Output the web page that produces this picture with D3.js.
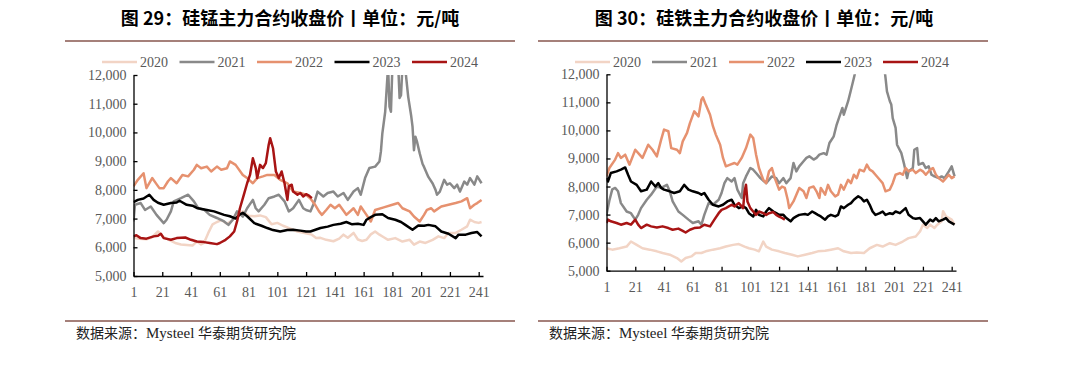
<!DOCTYPE html>
<html>
<head>
<meta charset="utf-8">
<script src="https://cdn.jsdelivr.net/npm/d3@7"></script>
<style>
  body { margin: 0; background: #fff; }
  svg { display: block; }
</style>
</head>
<body>
<div id="chart"></div>
<script>
// ---- data ----
const years = ["2020", "2021", "2022", "2023", "2024"];
const xTicks = [1, 21, 41, 61, 81, 101, 121, 141, 161, 181, 201, 221, 241];
const yTicks = [5000, 6000, 7000, 8000, 9000, 10000, 11000, 12000];

// 图29 硅锰 [trading day, price]
const simn2020 = [[1,6330],[5,6300],[10,6280],[14,6350],[18,6550],[22,6350],[26,6250],[30,6150],[34,6100],[38,6080],[42,6060],[45,6200],[48,6100],[50,6150],[53,6500],[56,6800],[59,6880],[62,6950],[66,6820],[70,6950],[73,7150],[77,7250],[81,7100],[85,7080],[89,7110],[93,7050],[97,6800],[101,6850],[105,6750],[110,6650],[115,6550],[120,6500],[125,6440],[128,6320],[131,6330],[135,6260],[140,6210],[144,6300],[147,6440],[150,6330],[154,6500],[157,6270],[160,6220],[163,6260],[166,6450],[169,6550],[172,6440],[175,6350],[178,6260],[183,6320],[188,6200],[193,6260],[196,6090],[200,6200],[204,6150],[209,6260],[213,6380],[217,6320],[220,6500],[225,6500],[229,6610],[233,6730],[235,6960],[238,6880],[241,6850],[243,6880]];
const simn2021 = [[1,6900],[2,7480],[6,7540],[9,7300],[13,7420],[17,7130],[22,6840],[24,6960],[27,7250],[29,7600],[34,7710],[39,7830],[43,7600],[46,7360],[50,7310],[54,7130],[59,7020],[64,6900],[67,6780],[70,6960],[73,7250],[77,7070],[80,7360],[84,7650],[86,7360],[88,7250],[92,7480],[95,7710],[99,7770],[102,7830],[106,7600],[109,7250],[112,7360],[116,7650],[119,7360],[121,7300],[124,7250],[127,7600],[129,7940],[133,7770],[136,7890],[140,7940],[143,7770],[147,7890],[150,7650],[154,7940],[157,8060],[159,7830],[162,8410],[165,8760],[169,8810],[172,8990],[173,9330],[174,9960],[176,10720],[178,12300],[179,10900],[180,10720],[181,12300],[183,12600],[185,12400],[186,11200],[187,11300],[188,12300],[190,12200],[192,11240],[194,10600],[195,10200],[196,9380],[197,9850],[198,9700],[200,9270],[202,8900],[203,8800],[206,8450],[209,8220],[211,8000],[212,7830],[214,7940],[217,8350],[219,8180],[221,8230],[224,8060],[226,8180],[228,7940],[231,8290],[233,8180],[235,8410],[238,8180],[240,8470],[243,8230]];
const simn2022 = [[1,8120],[4,8350],[8,8580],[10,8060],[14,8410],[17,8200],[19,8060],[22,8060],[25,8300],[27,8410],[31,8230],[35,8520],[39,8470],[43,8700],[45,8870],[48,8750],[52,8810],[55,8640],[59,8810],[62,8700],[66,8755],[68,8990],[72,8870],[77,8520],[80,8410],[84,8230],[87,8410],[91,8470],[94,8520],[99,8520],[103,8350],[108,8230],[112,7940],[117,7890],[121,7830],[124,7700],[127,7500],[130,7250],[132,7130],[135,7300],[138,7480],[141,7360],[144,7480],[149,7130],[154,7360],[157,7130],[159,7420],[163,7130],[166,6900],[169,7300],[175,7390],[181,7480],[185,7540],[188,7360],[193,7250],[196,7070],[200,6900],[203,7130],[205,7300],[208,7360],[210,7250],[215,7420],[220,7480],[225,7540],[229,7600],[233,7710],[235,7360],[238,7480],[240,7540],[243,7650]];
const simn2023 = [[1,7570],[4,7650],[8,7700],[12,7830],[15,7650],[18,7550],[22,7480],[27,7540],[31,7560],[33,7620],[38,7480],[42,7450],[45,7370],[52,7300],[57,7250],[64,7130],[68,7080],[72,7000],[75,7150],[77,7200],[80,7080],[85,6840],[90,6750],[94,6670],[98,6600],[103,6550],[108,6600],[112,6610],[117,6580],[121,6550],[124,6550],[131,6670],[136,6720],[140,6780],[145,6820],[149,6880],[153,6800],[157,6820],[161,6780],[163,6960],[166,7050],[169,7130],[174,7150],[178,7020],[183,6960],[187,6880],[190,6780],[195,6610],[199,6760],[203,6750],[206,6780],[211,6730],[215,6550],[220,6470],[225,6320],[227,6440],[232,6440],[236,6500],[240,6530],[243,6380]];
const simn2024 = [[1,6380],[3,6420],[6,6320],[10,6300],[15,6380],[18,6400],[20,6470],[22,6320],[27,6260],[31,6320],[37,6340],[41,6260],[45,6200],[50,6180],[54,6150],[59,6110],[61,6150],[65,6260],[68,6380],[71,6550],[73,6900],[75,7360],[78,7880],[80,8230],[82,8520],[84,9100],[86,8760],[87,8410],[89,8870],[91,8760],[93,8930],[95,9570],[96,9800],[98,9450],[100,8640],[102,8410],[104,8640],[106,8230],[108,7650],[109,8120],[111,8180],[112,7940],[115,7830],[117,7890],[119,7770],[121,7850],[123,7800],[125,7710]];

// 图30 硅铁 [trading day, price]
const fesi2020 = [[1,5800],[5,5750],[10,5800],[15,5860],[18,6040],[22,5920],[26,5800],[31,5750],[36,5690],[40,5630],[45,5570],[50,5450],[53,5330],[56,5450],[60,5510],[63,5630],[67,5630],[70,5690],[75,5750],[80,5800],[84,5860],[89,5920],[93,5950],[97,5860],[100,5800],[104,5750],[107,5690],[110,6040],[112,5860],[116,5750],[121,5690],[125,5630],[130,5570],[134,5510],[139,5570],[144,5630],[148,5690],[153,5710],[157,5750],[162,5800],[166,5690],[171,5630],[175,5650],[180,5630],[184,5800],[189,5920],[193,5860],[198,5980],[202,5920],[207,6040],[211,6160],[216,6220],[219,6400],[221,6640],[224,6520],[226,6640],[229,6520],[231,6640],[234,6760],[235,7120],[237,6940],[241,6820],[243,6640]];
const fesi2021 = [[1,6990],[3,7500],[5,7900],[7,7950],[9,7830],[11,7410],[15,7110],[18,7050],[21,6820],[23,6990],[25,7230],[29,7530],[32,7710],[36,8000],[39,7950],[43,8060],[45,7830],[47,7470],[51,7110],[54,6990],[58,6820],[61,6700],[65,6760],[67,6640],[69,6990],[72,7410],[75,7350],[79,7530],[81,7770],[83,8120],[85,8300],[88,8180],[90,8300],[92,7890],[95,7590],[96,8120],[98,8360],[101,8660],[103,8600],[105,8480],[108,8300],[112,8120],[116,8360],[119,8300],[121,8120],[122,8180],[124,8300],[126,8120],[129,8300],[131,8840],[133,8540],[135,8720],[138,8900],[140,9020],[142,9075],[145,8960],[147,9020],[149,9135],[152,9190],[154,9135],[156,9550],[159,9790],[161,10200],[163,10500],[165,10800],[166,10560],[169,11040],[171,11450],[173,11870],[175,12300],[180,13500],[185,14000],[190,13500],[194,12300],[195,11870],[196,11390],[198,11040],[199,10920],[200,10440],[202,10090],[203,9490],[206,9190],[208,8780],[210,8300],[211,8540],[214,8660],[215,9310],[217,9370],[218,8780],[221,8840],[223,8660],[225,8720],[227,8420],[229,8360],[232,8300],[234,8360],[236,8300],[239,8540],[241,8720],[243,8360]];
const fesi2022 = [[1,8360],[3,8660],[7,8960],[9,9190],[11,9020],[14,9135],[17,8780],[21,9310],[24,9135],[26,9020],[30,9490],[33,9310],[36,9075],[39,9670],[41,10030],[44,9970],[46,9370],[50,9310],[52,9190],[54,9610],[57,9910],[59,10260],[62,10680],[65,10500],[67,11100],[68,11180],[70,10920],[73,10560],[75,10150],[77,9850],[80,9490],[82,9020],[84,8720],[87,8780],[90,8840],[92,8780],[95,9020],[98,9370],[101,9850],[103,9730],[105,9135],[107,8660],[110,8240],[112,8120],[114,8540],[116,8660],[118,8300],[121,7890],[123,8000],[125,7950],[127,7530],[128,7230],[131,7470],[133,7710],[135,7950],[138,7830],[140,7590],[142,7950],[145,8000],[147,7830],[149,7590],[150,7950],[153,7710],[155,8060],[157,7830],[160,7650],[162,7710],[164,8060],[166,7890],[169,8240],[171,8120],[173,8420],[175,8300],[177,8600],[180,8540],[182,8780],[184,8600],[186,8540],[188,8420],[191,8240],[193,8120],[195,7830],[198,7890],[200,8120],[202,8420],[205,8480],[207,8420],[209,8660],[211,8540],[214,8600],[216,8480],[219,8600],[221,8540],[223,8420],[226,8600],[228,8660],[230,8420],[232,8300],[235,8180],[237,8300],[239,8420],[241,8300],[243,8360]];
const fesi2023 = [[1,8300],[2,8180],[4,8480],[8,8540],[11,8600],[14,8680],[16,8420],[18,8180],[22,8060],[25,7830],[29,7890],[32,8180],[35,8000],[37,8120],[39,7950],[41,7890],[45,7830],[48,7770],[52,7830],[55,8060],[58,7890],[61,7830],[65,7770],[67,7710],[69,7770],[72,7530],[75,7350],[79,7290],[82,7350],[85,7470],[88,7530],[90,7350],[93,7230],[96,7290],[98,7230],[100,7050],[103,6935],[105,7170],[107,6990],[110,6935],[112,7110],[114,7230],[117,7110],[119,7050],[121,6990],[124,6990],[126,6875],[129,6760],[131,6875],[133,6935],[135,6990],[139,7020],[141,6990],[144,7110],[146,7050],[148,6990],[150,6935],[153,6820],[155,6935],[157,6990],[160,6935],[162,6990],[164,7290],[166,7230],[169,7350],[171,7410],[173,7530],[176,7650],[178,7590],[180,7470],[182,7530],[184,7350],[186,7110],[188,6990],[191,7050],[193,7110],[195,6990],[198,7050],[200,7020],[202,7110],[205,7050],[207,7140],[209,7230],[211,6990],[214,6875],[216,6850],[219,6875],[221,6760],[223,6640],[226,6820],[228,6760],[230,6875],[232,6760],[235,6820],[237,6875],[239,6760],[243,6640]];
const fesi2024 = [[1,6700],[2,6820],[4,6760],[8,6700],[11,6640],[15,6700],[18,6640],[21,6820],[23,6640],[25,6520],[29,6640],[32,6580],[36,6540],[40,6580],[44,6520],[47,6460],[51,6500],[54,6420],[56,6360],[59,6460],[62,6520],[66,6540],[69,6640],[73,6580],[76,6820],[79,7050],[81,7170],[84,7230],[88,7350],[90,7290],[93,7410],[96,7230],[97,7830],[98,8060],[99,7470],[101,7230],[103,7110],[105,6990],[107,7110],[110,7050],[112,6990],[114,7050],[117,7090],[119,6990],[121,6930],[123,6880],[125,6820]];

// ---- styles ----
const lineColors = ["#f2d4c5", "#898989", "#e6916f", "#000000", "#a81414"];
const ruleColor = "#a5807a";
const labelColor = "#595959";
const serif = "'Liberation Serif', 'Times New Roman', serif";
const cjk = "'Noto Sans CJK SC', 'Noto Sans', sans-serif";

const svg = d3.select("#chart").append("svg")
  .attr("width", 1080)
  .attr("height", 371);

svg.append("rect").attr("width", 1080).attr("height", 371).attr("fill", "#fff");

function drawPanel(opts) {
  const g = svg.append("g");

  // title + rules
  g.append("text")
    .attr("x", opts.center)
    .attr("y", 25)
    .attr("text-anchor", "middle")
    .attr("font-family", cjk)
    .attr("font-weight", "bold")
    .attr("font-size", "18px")
    .attr("fill", "#000")
    .text(opts.title);

  [41, 321].forEach(function (y) {
    g.append("line")
      .attr("x1", opts.ruleX0).attr("x2", opts.ruleX1)
      .attr("y1", y).attr("y2", y)
      .attr("stroke", ruleColor)
      .attr("stroke-width", 2);
  });

  const src = g.append("text")
    .attr("x", opts.ruleX0 + 11)
    .attr("y", 338)
    .attr("font-size", "14px")
    .attr("fill", "#222");
  src.append("tspan").attr("font-family", cjk).text("数据来源：");
  src.append("tspan").attr("font-family", serif).attr("font-size", "15px").text("Mysteel ");
  src.append("tspan").attr("font-family", cjk).text("华泰期货研究院");

  // scales
  const x = d3.scaleLinear().domain([1, 244]).range([opts.x0, opts.x0 + 349.5]);
  const y = d3.scaleLinear().domain([5000, 12000]).range([opts.yBottom, opts.yTop]);

  const clipId = "clip" + opts.id;
  g.append("clipPath").attr("id", clipId)
    .append("rect")
    .attr("x", x.range()[0]).attr("y", opts.yTop)
    .attr("width", x.range()[1] - x.range()[0] + 4)
    .attr("height", opts.yBottom - opts.yTop);

  const line = d3.line()
    .x(function (d) { return x(d[0]); })
    .y(function (d) { return y(d[1]); });

  g.append("g").attr("clip-path", "url(#" + clipId + ")")
    .selectAll("path.series")
    .data(opts.series)
    .enter().append("path")
    .attr("class", "series")
    .attr("d", line)
    .attr("fill", "none")
    .attr("stroke", function (d, i) { return lineColors[i]; })
    .attr("stroke-width", 2.5)
    .attr("stroke-linejoin", "round");

  // axes (inside ticks)
  const yAxis = g.append("g")
    .attr("transform", "translate(" + x.range()[0] + ",0)")
    .call(d3.axisLeft(y).tickValues(yTicks).tickFormat(d3.format(",")).tickSizeInner(-4).tickSizeOuter(0).tickPadding(7));
  const xAxis = g.append("g")
    .attr("transform", "translate(0," + opts.yBottom + ")")
    .call(d3.axisBottom(x).tickValues(xTicks).tickSizeInner(-4).tickSizeOuter(0).tickPadding(11));

  [yAxis, xAxis].forEach(function (ax) {
    ax.select(".domain").attr("stroke", "#000").attr("stroke-width", 1.3);
    ax.selectAll(".tick line").attr("stroke", "#000").attr("stroke-width", 1.3);
    ax.selectAll("text")
      .attr("font-family", serif)
      .attr("font-size", "14px")
      .attr("fill", labelColor);
  });

  // legend
  const leg = g.append("g").selectAll("g")
    .data(years)
    .enter().append("g")
    .attr("transform", function (d, i) { return "translate(" + (opts.legX + i * opts.legStep) + ",62)"; });
  leg.append("line")
    .attr("x1", 0).attr("x2", 35)
    .attr("stroke", function (d, i) { return lineColors[i]; })
    .attr("stroke-width", 2.5);
  leg.append("text")
    .attr("x", 38)
    .attr("dy", "0.34em")
    .attr("font-family", serif)
    .attr("font-size", "14px")
    .attr("fill", labelColor)
    .text(function (d) { return d; });
}

drawPanel({
  id: "simn",
  title: "图 29：硅锰主力合约收盘价丨单位：元/吨",
  center: 290, ruleX0: 65, ruleX1: 515,
  x0: 133.5, yTop: 75, yBottom: 276,
  legX: 102, legStep: 77.5,
  series: [simn2020, simn2021, simn2022, simn2023, simn2024]
});

drawPanel({
  id: "fesi",
  title: "图 30：硅铁主力合约收盘价丨单位：元/吨",
  center: 764, ruleX0: 538, ruleX1: 988,
  x0: 606.5, yTop: 74.3, yBottom: 270.7,
  legX: 575, legStep: 77,
  series: [fesi2020, fesi2021, fesi2022, fesi2023, fesi2024]
});
</script>
</body>
</html>
